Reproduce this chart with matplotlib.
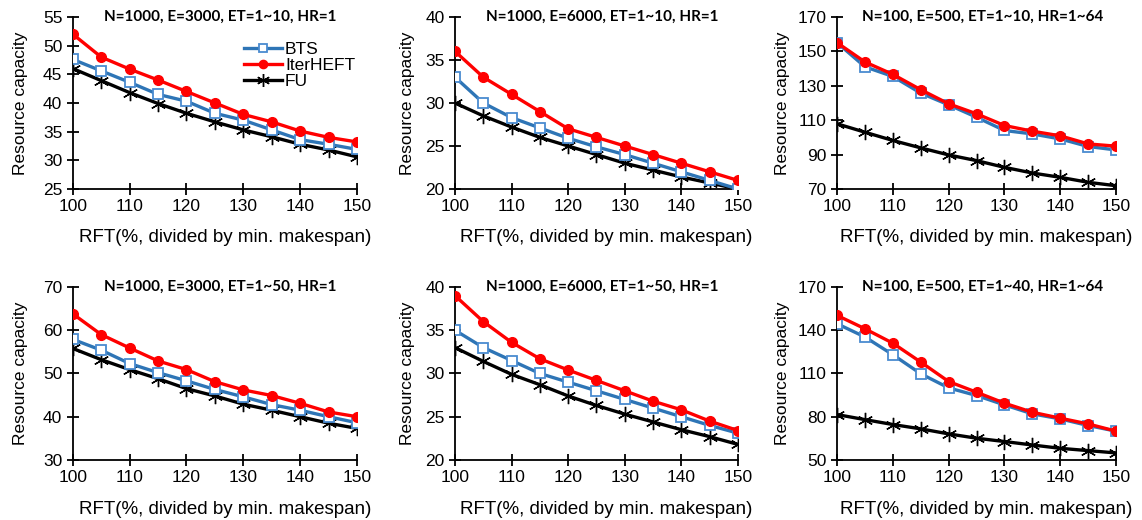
import matplotlib
matplotlib.use("Agg")
import matplotlib.pyplot as plt
import numpy as np

rft = [100, 105, 110, 115, 120, 125, 130, 135, 140, 145, 150]
series_names = ["BTS", "IterHEFT", "FU"]

titles = [
    "N=1000, E=3000, ET=1~10, HR=1",
    "N=1000, E=6000, ET=1~10, HR=1",
    "N=100, E=500, ET=1~10, HR=1~64",
    "N=1000, E=3000, ET=1~50, HR=1",
    "N=1000, E=6000, ET=1~50, HR=1",
    "N=100, E=500, ET=1~40, HR=1~64",
]

# panel 1
bts_1 = [47.6, 45.6, 43.6, 41.5, 40.3, 38.2, 37.0, 35.3, 33.6, 32.8, 31.9]
iter_1 = [52.0, 48.0, 45.9, 44.0, 42.0, 40.0, 38.0, 36.7, 35.1, 34.0, 33.2]
fu_1 = [46.0, 43.9, 41.8, 39.9, 38.2, 36.7, 35.3, 34.1, 32.8, 31.8, 30.6]
# panel 2
bts_2 = [33.0, 30.0, 28.3, 27.1, 25.9, 24.9, 24.0, 23.0, 22.0, 21.0, 20.0]
iter_2 = [36.0, 33.0, 31.0, 29.0, 27.0, 26.0, 25.0, 24.0, 23.0, 22.0, 21.0]
fu_2 = [30.0, 28.5, 27.2, 26.0, 25.0, 24.0, 23.0, 22.2, 21.4, 20.7, 20.0]
# panel 3
bts_3 = [155.0, 141.0, 135.4, 125.7, 118.9, 111.7, 104.0, 102.0, 99.1, 94.7, 92.7]
iter_3 = [155.0, 143.8, 136.6, 127.7, 119.5, 113.7, 106.9, 103.6, 100.9, 96.2, 94.9]
fu_3 = [107.9, 103.0, 98.2, 93.9, 89.8, 86.5, 82.6, 79.3, 76.8, 73.9, 71.9]
# panel 4
bts_4 = [57.9, 55.4, 52.3, 50.2, 48.3, 46.3, 44.6, 42.8, 41.5, 40.0, 38.6]
iter_4 = [63.8, 59.0, 55.9, 52.9, 50.9, 48.1, 46.2, 44.9, 43.1, 41.1, 40.0]
fu_4 = [55.8, 53.2, 50.9, 48.8, 46.5, 44.8, 42.9, 41.5, 40.0, 38.5, 37.3]
# panel 5
bts_5 = [35.0, 33.0, 31.5, 30.0, 29.0, 28.0, 27.0, 26.0, 25.0, 24.0, 23.1]
iter_5 = [39.0, 36.0, 33.6, 31.7, 30.4, 29.2, 28.0, 26.8, 25.8, 24.5, 23.4]
fu_5 = [33.0, 31.4, 29.9, 28.7, 27.4, 26.3, 25.3, 24.4, 23.5, 22.7, 21.8]
# panel 6
bts_6 = [144.5, 135.3, 123.0, 109.8, 100.0, 94.7, 88.2, 82.0, 78.5, 73.9, 70.0]
iter_6 = [150.3, 141.0, 131.0, 117.9, 104.4, 97.0, 89.4, 83.1, 79.0, 75.0, 70.0]
fu_6 = [81.5, 78.0, 74.6, 71.6, 68.1, 65.1, 62.8, 60.4, 58.1, 56.5, 54.9]

yticks = [
    [25, 30, 35, 40, 45, 50, 55],
    [20, 25, 30, 35, 40],
    [70, 90, 110, 130, 150, 170],
    [30, 40, 50, 60, 70],
    [20, 25, 30, 35, 40],
    [50, 80, 110, 140, 170],
]
xticks = [100, 110, 120, 130, 140, 150]

panels = [
    (bts_1, iter_1, fu_1), (bts_2, iter_2, fu_2), (bts_3, iter_3, fu_3),
    (bts_4, iter_4, fu_4), (bts_5, iter_5, fu_5), (bts_6, iter_6, fu_6),
]

fig = plt.figure(figsize=(11.42, 5.2), dpi=100)

lefts = [0.0637, 0.3984, 0.733]
widths = [0.249, 0.2478, 0.2443]
bottoms = [0.6365, 0.1154]
heights = [0.331, 0.3327]
ylabel_x = [-0.183, -0.167, -0.194]

sans = ["Liberation Sans", "DejaVu Sans"]
title_font = ["Lato", "DejaVu Sans"]

for i, (b, it, f) in enumerate(panels):
    r, c = divmod(i, 3)
    ax = fig.add_axes([lefts[c], bottoms[r], widths[c], heights[r]])
    ax.plot(rft, b, color="#2E75B6", lw=2.4, marker="s", ms=7,
            mfc="white", mec="#4A8BD0", mew=1.3, label=series_names[0], zorder=3)
    ax.plot(rft, it, color="#FF0000", lw=2.4, marker="o", ms=7,
            mfc="#FF0000", mec="#FF0000", label=series_names[1], zorder=4)
    ax.plot(rft, f, color="black", lw=2.4, marker=(6, 2, 0), ms=11,
            mew=1.0, label=series_names[2], zorder=2)
    ax.set_xlim(100, 150)
    ax.set_ylim(yticks[i][0], yticks[i][-1])
    ax.set_xticks(xticks)
    ax.set_yticks(yticks[i])
    for s in ["top", "right"]:
        ax.spines[s].set_visible(False)
    for s in ["left", "bottom"]:
        ax.spines[s].set_linewidth(1.3)
    ax.tick_params(direction="inout", length=9, width=1.3, labelsize=12.5, pad=3)
    for lab in ax.get_xticklabels() + ax.get_yticklabels():
        lab.set_fontfamily(sans)
    ax.set_xlabel("RFT(%, divided by min. makespan)", fontsize=13.5,
                  family=sans)
    ax.xaxis.set_label_coords(0.535, -0.235)
    ax.set_ylabel("Resource capacity", fontsize=12.5, family=sans)
    ax.yaxis.set_label_coords(ylabel_x[c], 0.5)
    ax.yaxis.label.set_va("center")
    ax.text(0.52, 1.0, titles[i], transform=ax.transAxes, ha="center",
            va="center", fontsize=11, fontweight="bold", family=title_font)
    ax.patch.set_alpha(0)
    if i == 0:
        ax.legend(loc="upper left", bbox_to_anchor=(0.56, 0.925), frameon=False,
                  prop={"family": sans, "size": 12.5},
                  handlelength=2.2, handletextpad=0.15, labelspacing=0.05,
                  borderpad=0.2, markerscale=0.85)

fig.savefig("out.png", dpi=100)
